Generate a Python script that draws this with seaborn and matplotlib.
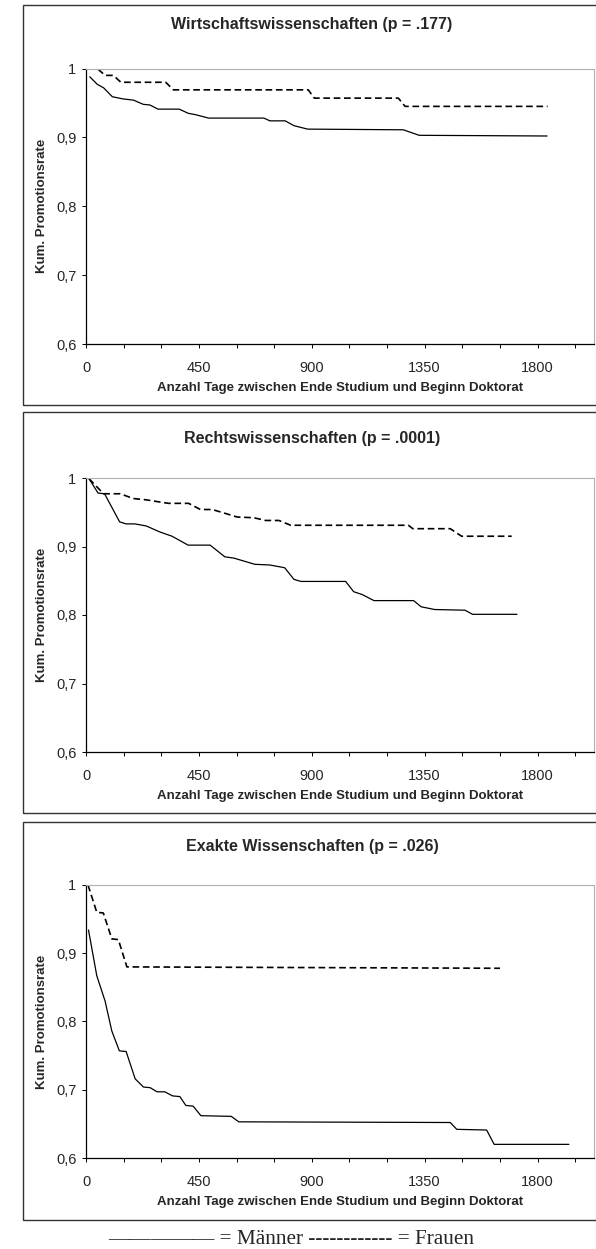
import numpy as np
import pandas as pd
import matplotlib
matplotlib.use("Agg")
import matplotlib.pyplot as plt
from matplotlib.patches import Rectangle
from matplotlib.ticker import MultipleLocator, FixedLocator
import seaborn as sns

# ---------------- data ----------------
titles = ["Wirtschaftswissenschaften (p = .177)",
          "Rechtswissenschaften (p = .0001)",
          "Exakte Wissenschaften (p = .026)"]

# Wirtschaftswissenschaften
m1_days = [15, 45, 70, 105, 145, 190, 228, 255, 287, 372, 407, 436, 489, 709, 733, 794, 829, 883, 1265, 1328, 1838]
m1_vals = [0.988, 0.977, 0.972, 0.959, 0.956, 0.954, 0.948, 0.947, 0.941, 0.941, 0.935, 0.933, 0.928, 0.928,
           0.924, 0.924, 0.917, 0.912, 0.911, 0.903, 0.902]
f1_days = [8, 45, 76, 109, 139, 318, 348, 886, 910, 1245, 1272, 1840]
f1_vals = [1.0, 1.0, 0.990, 0.990, 0.980, 0.980, 0.969, 0.969, 0.957, 0.957, 0.945, 0.945]

# Rechtswissenschaften
m2_days = [12, 48, 74, 134, 160, 195, 240, 296, 343, 407, 495, 553, 590, 673, 733, 792, 829, 857, 1035, 1067,
           1100, 1148, 1306, 1336, 1390, 1511, 1541, 1718]
m2_vals = [0.999, 0.978, 0.977, 0.936, 0.933, 0.933, 0.930, 0.921, 0.915, 0.902, 0.902, 0.885, 0.883, 0.874,
           0.873, 0.869, 0.852, 0.849, 0.849, 0.834, 0.830, 0.821, 0.821, 0.812, 0.808, 0.807, 0.801, 0.801]
f2_days = [12, 70, 136, 189, 243, 276, 329, 409, 456, 503, 549, 603, 669, 716, 769, 816, 1285, 1303, 1452, 1497, 1697]
f2_vals = [0.999, 0.977, 0.977, 0.970, 0.968, 0.966, 0.963, 0.963, 0.954, 0.954, 0.949, 0.943, 0.942, 0.938,
           0.938, 0.931, 0.931, 0.926, 0.926, 0.915, 0.915]

# Exakte Wissenschaften
m3_days = [10, 43, 76, 103, 133, 160, 196, 229, 256, 283, 314, 345, 374, 398, 427, 458, 579, 609, 1452, 1478,
           1597, 1627, 1925]
m3_vals = [0.934, 0.867, 0.830, 0.786, 0.757, 0.756, 0.716, 0.704, 0.703, 0.697, 0.697, 0.691, 0.690, 0.677,
           0.676, 0.662, 0.661, 0.653, 0.652, 0.642, 0.641, 0.620, 0.620]
f3_days = [8, 43, 69, 103, 129, 163, 1650]
f3_vals = [1.0, 0.960, 0.959, 0.921, 0.920, 0.880, 0.878]

y_ticks = [0.6, 0.7, 0.8, 0.9, 1.0]
y_labels = ["0,6", "0,7", "0,8", "0,9", "1"]
x_major = [0, 450, 900, 1350, 1800]
x_label = "Anzahl Tage zwischen Ende Studium und Beginn Doktorat"
y_label = "Kum. Promotionsrate"
legend_text = "\u2014" * 5 + " = Männer " + "-" * 12 + " = Frauen"

panels = [(m1_days, m1_vals, f1_days, f1_vals),
          (m2_days, m2_vals, f2_days, f2_vals),
          (m3_days, m3_vals, f3_days, f3_vals)]

# ---------------- styling ----------------
sns.set_style("white")
plt.rcParams["font.family"] = ["Liberation Sans", "DejaVu Sans"]

W, H = 596, 1249
fig = plt.figure(figsize=(W / 100, H / 100), dpi=100)

# layout in pixels (top of y=1, bottom of y=0.6), boxes
ax_px = [(68.5, 344), (478, 752), (885, 1158)]
box_px = [(5, 405), (412, 813), (822, 1220)]
title_px = [25, 438, 847]
left_px, right_px = 86, 594

for i, (md, mv, fd, fv) in enumerate(panels):
    top, bot = ax_px[i]
    ax = fig.add_axes([left_px / W, 1 - bot / H, (right_px - left_px) / W, (bot - top) / H])
    df = pd.concat([
        pd.DataFrame({"Tage": md, "Rate": mv, "Geschlecht": "Männer"}),
        pd.DataFrame({"Tage": fd, "Rate": fv, "Geschlecht": "Frauen"}),
    ], ignore_index=True)
    sns.lineplot(data=df, x="Tage", y="Rate", style="Geschlecht",
                 style_order=["Männer", "Frauen"],
                 dashes={"Männer": "", "Frauen": (4, 2.2)},
                 color="black", estimator=None, legend=False, ax=ax)
    for ln in ax.lines:
        if ln.get_linestyle() == "-":
            ln.set_linewidth(0.9)
        else:
            ln.set_linewidth(1.2)
    ax.set_xlim(0, 2025)
    ax.set_ylim(0.6, 1.0)
    ax.xaxis.set_major_locator(FixedLocator(x_major))
    ax.xaxis.set_minor_locator(MultipleLocator(150))
    ax.set_xticklabels([str(v) for v in x_major])
    ax.yaxis.set_major_locator(FixedLocator(y_ticks))
    ax.set_yticklabels(y_labels)
    ax.tick_params(axis="x", which="both", direction="out", length=3, width=0.7,
                   color="black", pad=9, labelsize=10.5, bottom=True)
    ax.tick_params(axis="y", which="both", direction="out", length=3, width=0.7,
                   color="black", pad=4, labelsize=10.5, left=True)
    for s in ["left", "bottom"]:
        ax.spines[s].set_color("black")
        ax.spines[s].set_linewidth(0.9)
    for s in ["top", "right"]:
        ax.spines[s].set_color("#b0b0b0")
        ax.spines[s].set_linewidth(0.8)
        ax.spines[s].set_linestyle((0, (1, 1)))
    ax.set_xlabel(x_label, fontsize=9.5, fontweight="bold", labelpad=5)
    ax.set_ylabel(y_label, fontsize=9.5, fontweight="bold", labelpad=6)
    ax.patch.set_alpha(0)

    b0, b1 = box_px[i]
    fig.add_artist(Rectangle((23 / W, 1 - b1 / H), 0.99, (b1 - b0) / H,
                             transform=fig.transFigure, fill=False,
                             edgecolor="#333333", linewidth=1.0))
    fig.text(312 / W, 1 - title_px[i] / H, titles[i], ha="center", va="center",
             fontsize=11.5, fontweight="bold")

fig.text(291 / W, 1 - 1240 / H, legend_text, ha="center", va="center",
         fontsize=15.3, family=["Liberation Serif", "DejaVu Serif"])

fig.savefig("out.png", dpi=100)
